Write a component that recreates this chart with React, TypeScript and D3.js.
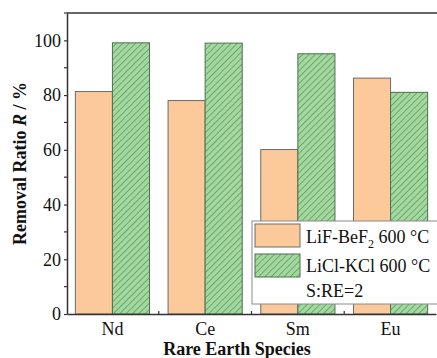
import React, { useEffect, useRef } from 'react'
import * as d3 from 'd3'

const species = ['Nd', 'Ce', 'Sm', 'Eu']
const lifBef2 = [81.3, 78.0, 60.1, 86.2]
const liclKcl = [99.1, 99.0, 95.1, 81.0]
const yTicks = [0, 20, 40, 60, 80, 100]
const yMinorTicks = [10, 30, 50, 70, 90, 110]

const W = 437
const H = 358
const FONT = 'Liberation Serif, Times New Roman, serif'

export default function App() {
  const ref = useRef<SVGSVGElement>(null)

  useEffect(() => {
    const node = ref.current
    if (!node) return
    const svg = d3.select(node)
    svg.selectAll('*').remove()

    const margin = { top: 13, right: 1, bottom: 44, left: 67 }

    const x0 = d3.scaleBand()
      .domain(species)
      .range([margin.left, W - margin.right])
      .paddingInner(0.2)
      .paddingOuter(0.09)

    const x1 = d3.scaleBand()
      .domain(['a', 'b'])
      .range([0, x0.bandwidth()])

    const y = d3.scaleLinear()
      .domain([0, 110])
      .range([H - margin.bottom, margin.top])

    // hatch for the green bars
    const defs = svg.append('defs')
    const pat = defs.append('pattern')
      .attr('id', 'hatch')
      .attr('patternUnits', 'userSpaceOnUse')
      .attr('width', 4.5)
      .attr('height', 4.5)
      .attr('patternTransform', 'rotate(45)')
    pat.append('rect').attr('width', 4.5).attr('height', 4.5).attr('fill', '#a3d9a0')
    pat.append('line')
      .attr('x1', 0.5).attr('y1', 0).attr('x2', 0.5).attr('y2', 4.5)
      .attr('stroke', '#5f9a5f').attr('stroke-width', 0.8)

    const rows = species.map((s, i) => ({ s, a: lifBef2[i], b: liclKcl[i] }))

    const g = svg.append('g')
    rows.forEach(d => {
      g.append('rect')
        .attr('x', x0(d.s)! + x1('a')!)
        .attr('y', y(d.a))
        .attr('width', x1.bandwidth())
        .attr('height', y(0) - y(d.a))
        .attr('fill', '#fbc99a')
        .attr('stroke', '#6b6b6b')
        .attr('stroke-width', 1)
      g.append('rect')
        .attr('x', x0(d.s)! + x1('b')!)
        .attr('y', y(d.b))
        .attr('width', x1.bandwidth())
        .attr('height', y(0) - y(d.b))
        .attr('fill', 'url(#hatch)')
        .attr('stroke', '#4f6f4f')
        .attr('stroke-width', 1)
    })

    // y axis
    const yAxis = svg.append('g')
      .attr('transform', `translate(${margin.left},0)`)
      .call(d3.axisLeft(y).tickValues(yTicks).tickSize(3).tickPadding(3).tickSizeOuter(0))
    yAxis.attr('font-family', FONT).attr('font-size', 18)
    yAxis.select('.domain').attr('stroke', '#333').attr('stroke-width', 1.5)
    yAxis.selectAll('.tick line').attr('stroke', '#333').attr('stroke-width', 1.2)
    yAxis.selectAll('.tick text').attr('fill', '#111')

    // y minor ticks
    svg.append('g')
      .selectAll('line')
      .data(yMinorTicks)
      .join('line')
      .attr('x1', margin.left - 3)
      .attr('x2', margin.left)
      .attr('y1', d => y(d))
      .attr('y2', d => y(d))
      .attr('stroke', '#333')
      .attr('stroke-width', 1.2)

    // x axis
    const xAxis = svg.append('g')
      .attr('transform', `translate(0,${H - margin.bottom})`)
      .call(d3.axisBottom(x0).tickSize(0).tickPadding(8))
    xAxis.attr('font-family', FONT).attr('font-size', 18)
    xAxis.select('.domain').attr('stroke', '#333').attr('stroke-width', 1.5)
    xAxis.selectAll('.tick text').attr('fill', '#111')

    // inward ticks between categories
    const step = x0.step()
    svg.append('g')
      .selectAll('line')
      .data(species.slice(1))
      .join('line')
      .attr('x1', d => x0(d)! + x0.bandwidth() / 2 - step / 2)
      .attr('x2', d => x0(d)! + x0.bandwidth() / 2 - step / 2)
      .attr('y1', y(0))
      .attr('y2', y(0) - 3)
      .attr('stroke', '#333')
      .attr('stroke-width', 1.2)

    // top frame
    svg.append('line')
      .attr('x1', margin.left).attr('x2', W)
      .attr('y1', margin.top).attr('y2', margin.top)
      .attr('stroke', '#333').attr('stroke-width', 1.5)

    // axis titles
    svg.append('text')
      .attr('x', 237)
      .attr('y', 355)
      .attr('text-anchor', 'middle')
      .attr('font-family', FONT)
      .attr('font-size', 18)
      .attr('font-weight', 'bold')
      .attr('fill', '#111')
      .text('Rare Earth Species')

    const yt = svg.append('text')
      .attr('transform', `translate(26,${(margin.top + H - margin.bottom) / 2}) rotate(-90)`)
      .attr('text-anchor', 'middle')
      .attr('font-family', FONT)
      .attr('font-size', 18)
      .attr('font-weight', 'bold')
      .attr('fill', '#111')
    yt.append('tspan').text('Removal Ratio ')
    yt.append('tspan').attr('font-style', 'italic').text('R')
    yt.append('tspan').text(' / %')

    // legend
    const lg = svg.append('g')
      .attr('font-family', FONT)
      .attr('font-size', 18)
      .attr('fill', '#111')
    lg.append('rect')
      .attr('x', 252).attr('y', 221).attr('width', 200).attr('height', 83)
      .attr('fill', '#fff').attr('stroke', '#8a8a8a').attr('stroke-width', 1)
    lg.append('rect')
      .attr('x', 255).attr('y', 224).attr('width', 45).attr('height', 23)
      .attr('fill', '#fbc99a').attr('stroke', '#6b6b6b')
    lg.append('rect')
      .attr('x', 255).attr('y', 254).attr('width', 45).attr('height', 23)
      .attr('fill', 'url(#hatch)').attr('stroke', '#4f6f4f')
    const t1 = lg.append('text').attr('x', 306).attr('y', 243)
    t1.append('tspan').text('LiF-BeF')
    t1.append('tspan').attr('font-size', 12).attr('dy', 5).text('2')
    t1.append('tspan').attr('dy', -5).text(' 600 \u00b0C')
    lg.append('text').attr('x', 306).attr('y', 272).text('LiCl-KCl 600 \u00b0C')
    lg.append('text').attr('x', 306).attr('y', 297).text('S:RE=2')
  }, [])

  return (
    <svg
      ref={ref}
      width={W}
      height={H}
      style={{ position: 'absolute', left: 0, top: 0, background: '#fff' }}
    />
  )
}
